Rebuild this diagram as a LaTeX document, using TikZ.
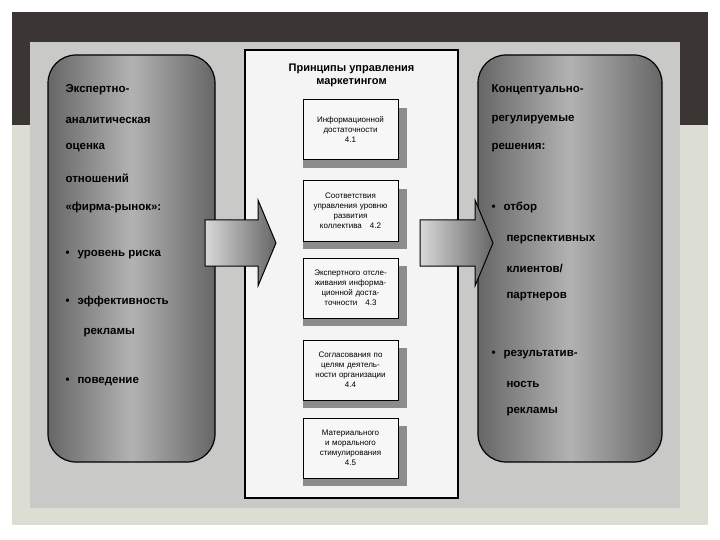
\documentclass[tikz,border=0pt]{standalone}
\usepackage{fontspec}
\setmainfont{Liberation Sans}
\definecolor{band}{HTML}{3B3634}
\definecolor{slidebg}{HTML}{DCDED3}
\definecolor{scan}{HTML}{C9C9C7}
\tikzset{
  pillbox/.style={draw=black, line width=1.2pt, rounded corners=28pt, left color=black!60, right color=black!60, middle color=black!30},
  small/.style={draw=black, line width=1pt, fill=white!85!scan, minimum width=95pt, minimum height=60pt, align=center, font=\fontsize{8}{10}\selectfont, text width=88pt},
  shadow/.style={fill=black!45},
  lt/.style={anchor=west, font=\fontsize{11.5}{13}\selectfont\bfseries},
  arrowfill/.style={draw=black, line width=1pt, left color=black!15, right color=black!60}
}
\begin{document}
\begin{tikzpicture}[x=1pt,y=-1pt]
\useasboundingbox (0,0) rectangle (720,540);
\fill[white] (0,0) rectangle (720,540);
\fill[slidebg] (12,12) rectangle (708,525);
\fill[band] (12,12) rectangle (708,125);
\fill[scan] (30,42) rectangle (680,508);
% pills
\node[pillbox, minimum width=167pt, minimum height=407pt] (L) at (131.5,258.5) {};
\node[pillbox, minimum width=184pt, minimum height=407pt] (R) at (570,258.5) {};
% center
\node[draw=black, line width=1.2pt, fill=white!80!scan, minimum width=213pt, minimum height=448pt] (C) at (351.5,274) {};
\node[font=\fontsize{11}{13}\selectfont\bfseries, align=center] (T) at (351.5,75) {Принципы управления\\маркетингом};
% arrows
\path[arrowfill] (205,220) -- (258,220) -- (258,200) -- (276,243) -- (258,286) -- (258,266) -- (205,266) -- cycle;
\path[arrowfill] (420,220) -- (475,220) -- (475,200) -- (493,243) -- (475,286) -- (475,266) -- (420,266) -- cycle;
% small boxes
\foreach \n/\y/\t in {b1/130/{Информационной\\достаточности\\4.1},
  b2/211/{Соответствия\\управления уровню\\развития\\коллектива\quad 4.2},
  b3/288/{Экспертного отсле-\\живания информа-\\ционной доста-\\точности\quad 4.3},
  b4/370/{Согласования по\\целям деятель-\\ности организации\\4.4},
  b5/448/{Материального\\и морального\\стимулирования\\4.5}}{
  \fill[shadow] (303,\y-22) rectangle (407,\y+38);
  \node[small] (\n) at (350.5,\y) {\t};
}
% left text
\foreach \y/\t in {90/Экспертно-,120/аналитическая,148/оценка,178/отношений,208/«фирма-рынок»:}
  \node[lt] at (62,\y) {\t};
\node[lt] at (80,333) {рекламы};
\foreach \y/\t in {255/уровень риска,302/эффективность,382/поведение}
  \node[lt] at (62,\y) {•\hspace{8pt}\t};
% right text
\foreach \y/\t in {90/Концептуально-,120/регулируемые,148/решения:}
  \node[lt] at (488,\y) {\t};
\foreach \y/\t in {240/перспективных,268/{клиентов/},297/партнеров,384/ность,412/рекламы}
  \node[lt] at (503,\y) {\t};
\foreach \y/\t in {207/отбор,355/результатив-}
  \node[lt] at (488,\y) {•\hspace{8pt}\t};
\end{tikzpicture}
\end{document}
